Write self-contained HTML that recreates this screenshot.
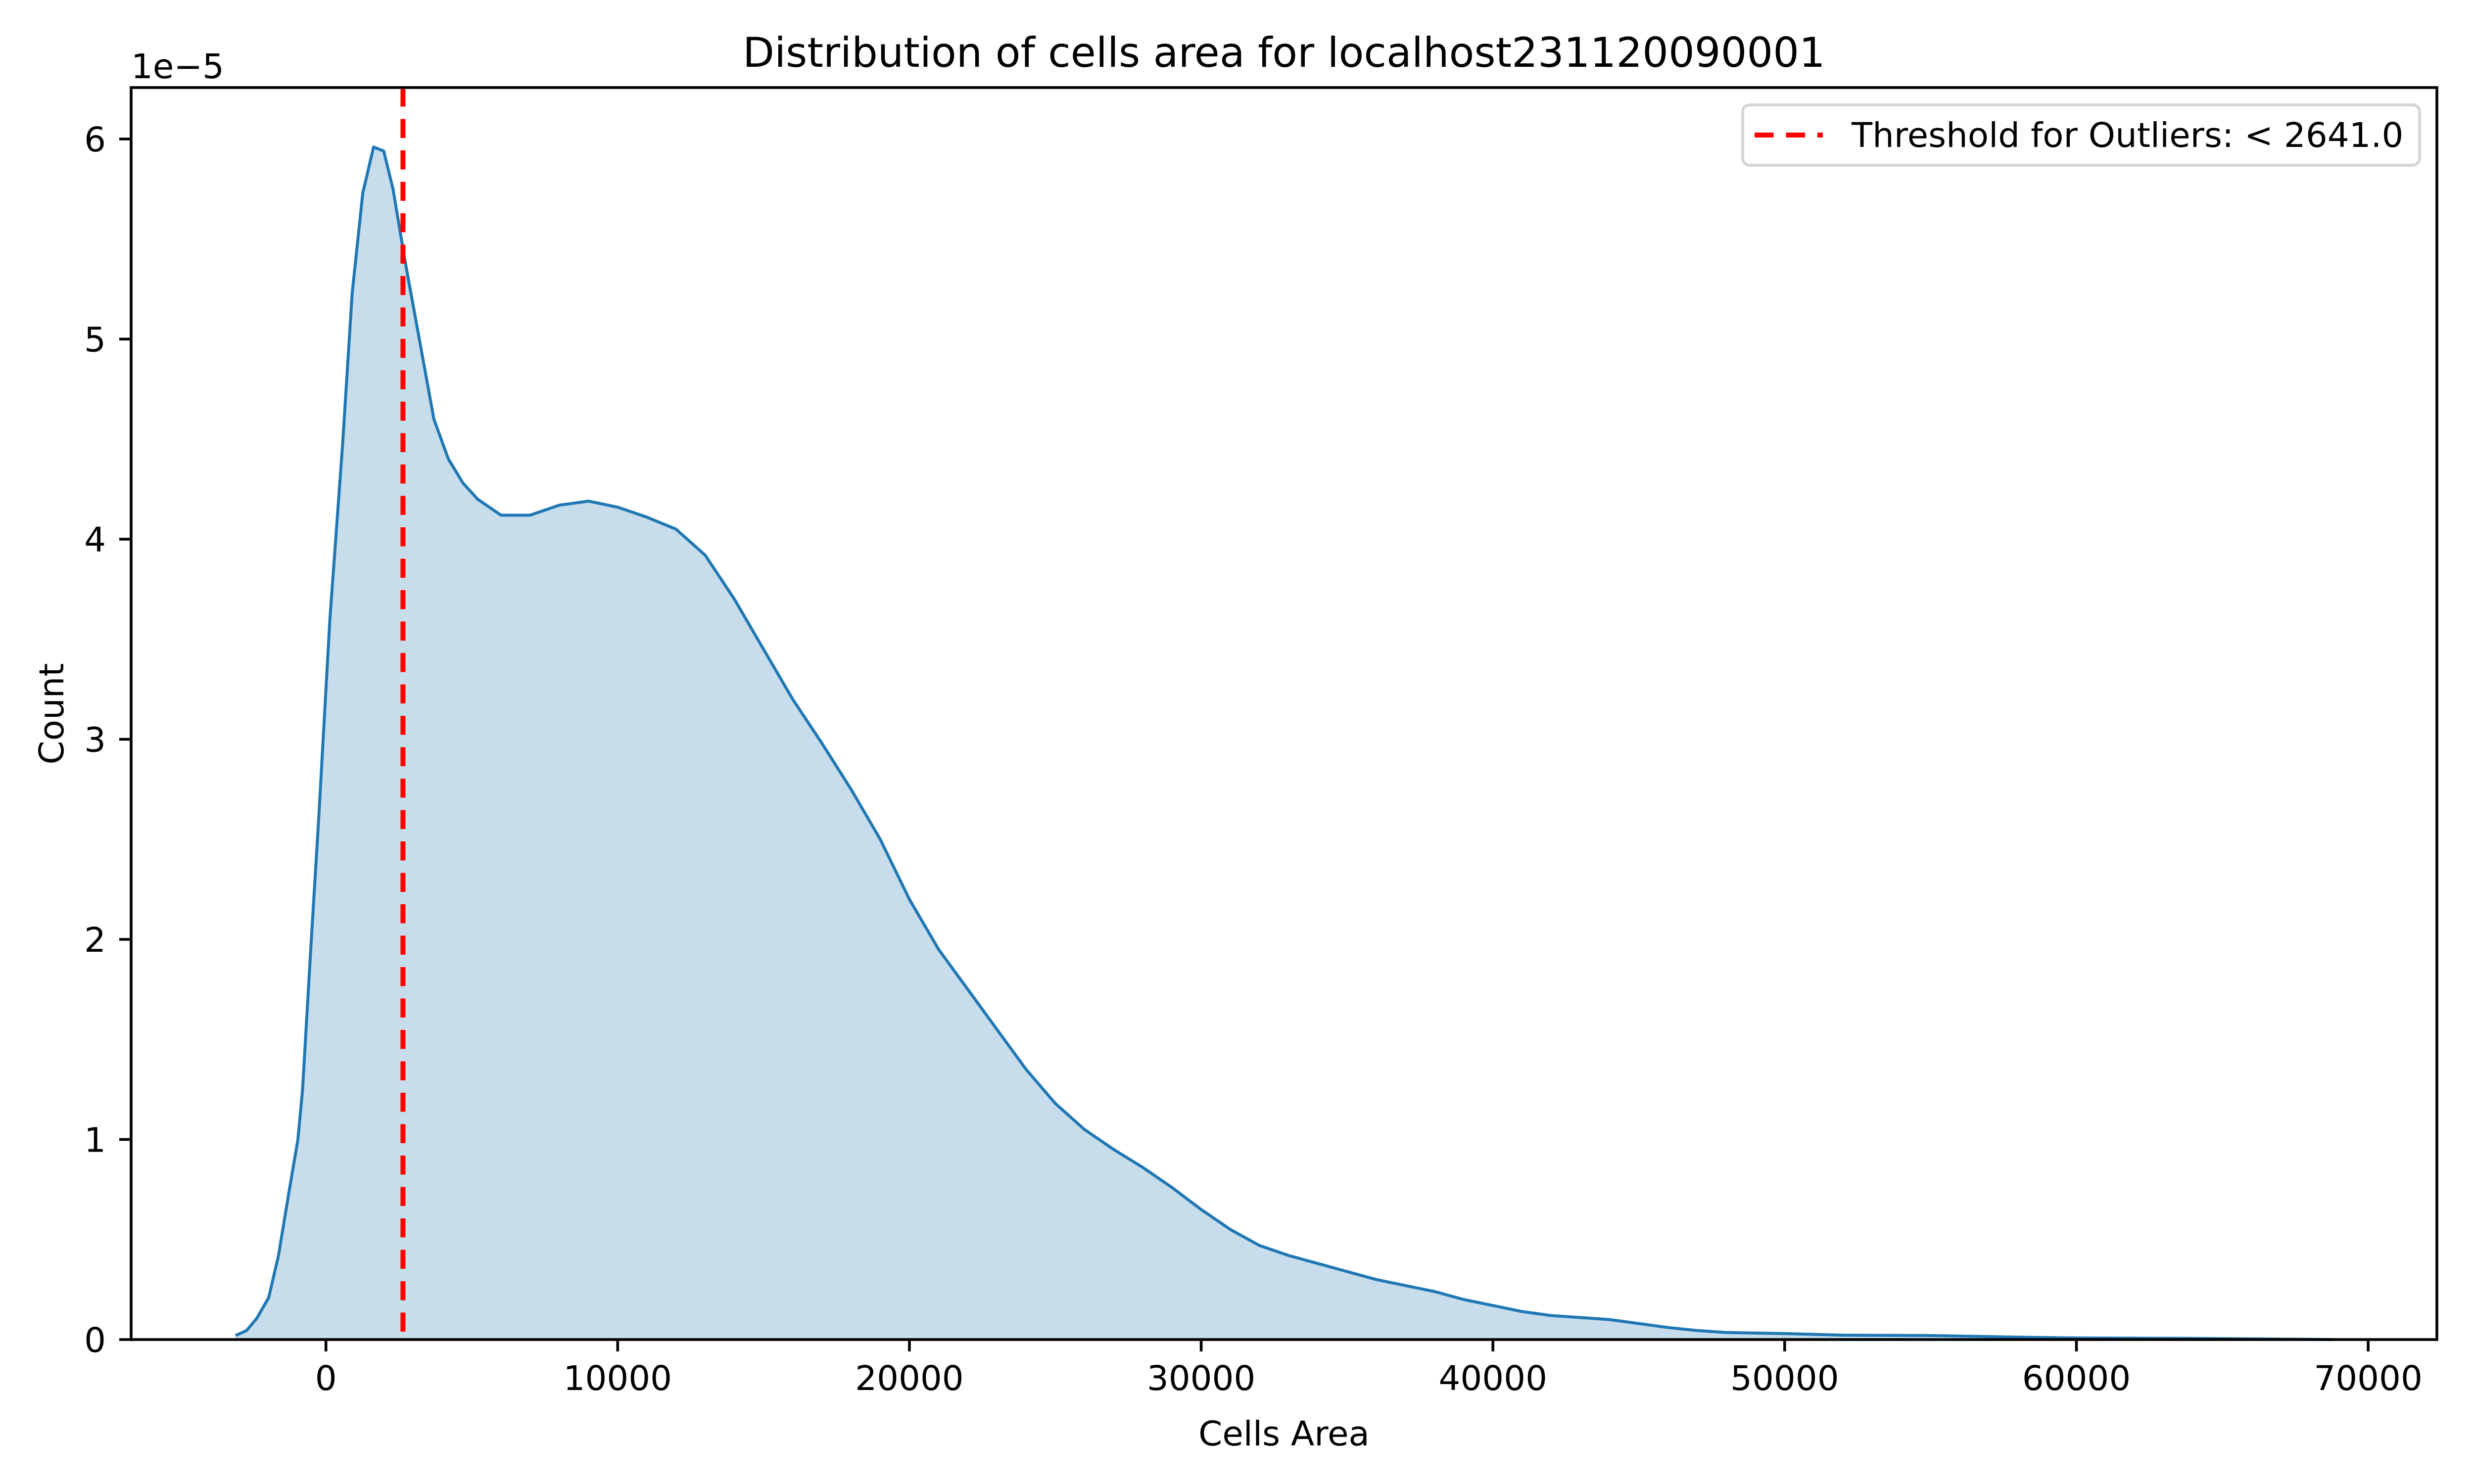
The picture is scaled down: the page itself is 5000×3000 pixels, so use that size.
<!DOCTYPE html>
<html><head><meta charset="utf-8"><style>
html,body{margin:0;padding:0;background:#fff;}
svg{display:block;font-family:"DejaVu Sans","Liberation Sans",sans-serif;}
</style></head><body>
<svg id="chart" width="5000" height="3000" viewBox="0 0 5000 3000" xmlns="http://www.w3.org/2000/svg">
<rect width="5000" height="3000" fill="#fff"/>
<g id="plot"></g>
<text x="2595" y="135" font-size="83" text-anchor="middle">Distribution of cells area for localhost231120090001</text>
<text x="2595" y="2922" font-size="69" text-anchor="middle">Cells Area</text>
<text transform="translate(128,1443) rotate(-90)" font-size="69" text-anchor="middle">Count</text>
<text x="265" y="158" font-size="69">1e−5</text>
<g>
<rect x="3522" y="212" width="1368" height="122" rx="14" fill="#fff" fill-opacity="0.8" stroke="#d6d6d6" stroke-width="6"/>
<line x1="3546" y1="273" x2="3684" y2="273" stroke="#ff0000" stroke-width="10" stroke-dasharray="38.5,25"/>
<text x="3742" y="297" font-size="69">Threshold for Outliers: &lt; 2641.0</text>
</g>
</svg>
<script>
const xs = [-3099,-2720,-2366,-1960,-1626,-1264,-960,-800,-520,-250,135,570,900,1263,1634,1981,2300,2700,3200,3700,4200,4700,5200,6000,7000,8000,9000,10000,11000,12000,13000,14000,15000,16000,17000,18000,19000,20000,21000,22000,23000,24000,25000,26000,27000,28000,29000,30000,31000,32000,33000,34000,35000,36000,37000,38000,39000,40000,41000,42000,43000,44000,45000,46000,47000,48000,50000,52000,55000,58000,60000,64000,68760];
const ys = [0.02,0.045,0.107,0.21,0.42,0.74,1.0,1.25,1.95,2.6,3.6,4.47,5.23,5.73,5.96,5.94,5.75,5.4,5.0,4.6,4.4,4.28,4.2,4.12,4.12,4.17,4.19,4.16,4.11,4.05,3.92,3.7,3.45,3.2,2.98,2.75,2.5,2.2,1.95,1.75,1.55,1.35,1.18,1.05,0.95,0.86,0.76,0.65,0.55,0.47,0.42,0.38,0.34,0.3,0.27,0.24,0.2,0.17,0.14,0.12,0.11,0.1,0.08,0.06,0.045,0.035,0.03,0.022,0.02,0.012,0.008,0.006,0.0];
const xTicks = [0,10000,20000,30000,40000,50000,60000,70000];
const yTicks = [0,1,2,3,4,5,6];
const threshold = [2641];

const L=265,R=4925,T=177,B=2708;
function X(v){return 658.7+v*0.058963;}
function Y(v){return 2708-v*404.5;}
const NS='http://www.w3.org/2000/svg';
const g=document.getElementById('plot');
function mk(tag,attrs,parent){const e=document.createElementNS(NS,tag);for(const k in attrs)e.setAttribute(k,attrs[k]);(parent||g).appendChild(e);return e;}

let pts=xs.map((x,i)=>X(x).toFixed(1)+','+Y(ys[i]).toFixed(1));
const area=mk('polygon',{points:X(xs[0])+','+Y(0)+' '+pts.join(' ')+' '+X(xs[xs.length-1])+','+Y(0),fill:'#1f77b4','fill-opacity':'0.25',stroke:'none'});


const line=mk('polyline',{points:pts.join(' '),fill:'none',stroke:'#1f77b4','stroke-width':'6','stroke-linejoin':'round'});



threshold.forEach(t=>{
  const l=mk('line',{x1:X(t),x2:X(t),y1:T,y2:B,stroke:'#ff0000','stroke-width':'10','stroke-dasharray':'38.5,25'});
  
  
});

const frame=mk('rect',{x:L,y:T,width:R-L,height:B-T,fill:'none',stroke:'#000','stroke-width':'5.6','stroke-linejoin':'miter'});



xTicks.forEach(v=>{
  const tk=mk('line',{x1:X(v),x2:X(v),y1:B,y2:B+24,stroke:'#000','stroke-width':'5.6'});
  
  
  const tx=mk('text',{x:X(v),y:2810,'font-size':'69','text-anchor':'middle'});
  tx.textContent=String(v);
  
  
});
yTicks.forEach(v=>{
  const tk=mk('line',{x1:L-24,x2:L,y1:Y(v),y2:Y(v),stroke:'#000','stroke-width':'5.6'});
  
  
  const tx=mk('text',{x:214,y:Y(v)+25,'font-size':'69','text-anchor':'end'});
  tx.textContent=String(v);
  
  
});
</script>
</body></html>
